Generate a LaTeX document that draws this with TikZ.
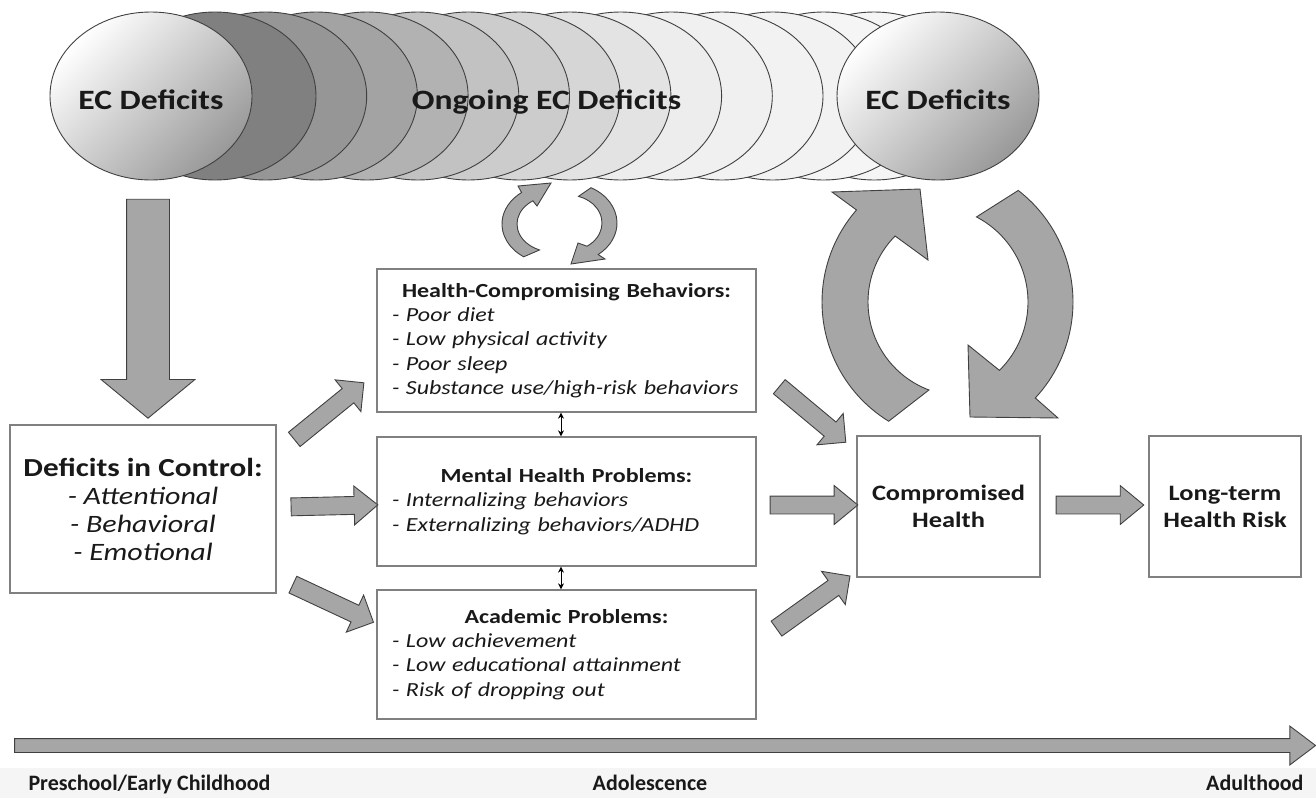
\documentclass[tikz,border=0pt]{standalone}
\usepackage{fontspec}
\setmainfont{Carlito}
\newfontfamily\wideface[FakeStretch=1.2]{Carlito}
\usetikzlibrary{shapes.geometric,shapes.arrows,calc,arrows.meta}

\tikzset{
	ring/.style={ellipse, draw=black!75, line width=0.9, inner sep=0pt, minimum width=202, minimum height=168},
	ectext/.style={font=\wideface\fontsize{28}{32}\selectfont\bfseries, text=black!90},
	box/.style={draw=black!50, line width=1.3, fill=white, inner sep=0pt, font=\wideface\fontsize{20}{24.3}\selectfont, text=black!90},
	fatarrow/.style={single arrow, draw=black!75, fill=black!35, line width=0.9, inner xsep=0pt, line join=miter},
	straightarrow/.style={inner ysep=8.5pt, single arrow head extend=10.5pt, single arrow tip angle=79},
	slantarrow/.style={inner ysep=8.75pt, single arrow head extend=11.25pt, single arrow tip angle=90},
	curvearrow/.style={draw=black!75, fill=black!35, line width=0.9, line join=miter},
	axislabel/.style={font=\fontsize{22}{26}\selectfont\bfseries, text=black!90}
}

\newcommand{\blockarrow}[4][]{%
	\path let \p1=($(#4)-(#3)$), \n1={atan2(\y1,\x1)}, \n2={veclen(\x1,\y1)} in
		node[fatarrow,#1,rotate=\n1,minimum height=\n2] (#2) at ($(#3)!0.5!(#4)$) {};}

\begin{document}
\begin{tikzpicture}[x=1pt,y=-1pt]
		\useasboundingbox (0,0) rectangle (1316,798);
		\fill[black!4] (0,768) rectangle (1316,798);
		\foreach \k/\g in {13/4,12/4,11/5,10/5,9/6,8/7,7/11,6/16,5/20,4/24,3/30,2/36,1/41,0/50}
			\node[ring, fill=black!\g] (ring\k) at ({215+50.7*\k},96) {};
		\node[ring, top color=white, bottom color=black!40, shading angle=45] (ec2) at (938,96) {};
		\node[ring, top color=white, bottom color=black!40, shading angle=45] (ec1) at (151,96) {};
		\node[ectext, anchor=base] (ec1lab) at (151,109) {EC Deficits};
		\node[ectext, anchor=base] (ec2lab) at (938,109) {EC Deficits};
		\node[ectext, anchor=base] (onglab) at (546.5,109) {Ongoing EC Deficits};

		\node[box, minimum width=266, minimum height=168, align=center, font=\wideface\fontsize{25}{28}\selectfont\itshape] (dc) at (143,509)
			{{\upshape\bfseries\fontsize{26}{29}\selectfont Deficits in Control:}\\ - Attentional\\ - Behavioral\\ - Emotional};
		\node[box, minimum width=379, minimum height=143, text width=349, align=left] (hcb) at (566.5,340.5)
			{\makebox[\linewidth]{\bfseries Health-Compromising Behaviors:}\\ \itshape - Poor diet\\ - Low physical activity\\ - Poor sleep\\ - Substance use/high-risk behaviors};
		\node[box, minimum width=379, minimum height=129, text width=349, align=left] (mhp) at (566.5,501.5)
			{\makebox[\linewidth]{\bfseries Mental Health Problems:}\\ \itshape - Internalizing behaviors\\ - Externalizing behaviors/ADHD};
		\node[box, minimum width=379, minimum height=129, text width=349, align=left] (ap) at (566.5,654.5)
			{\makebox[\linewidth]{\bfseries Academic Problems:}\\ \itshape - Low achievement\\ - Low educational attainment\\ - Risk of dropping out};
		\node[box, minimum width=183, minimum height=141, align=center, font=\wideface\fontsize{22}{27}\selectfont\bfseries] (ch) at (948.5,506.5) {Compromised\\Health};
		\node[box, minimum width=152, minimum height=141, align=center, font=\wideface\fontsize{22}{27}\selectfont\bfseries] (lt) at (1225,506.5) {Long-term\\Health Risk};

		\coordinate (a1t) at ($(ec1.south)+(-3,10)$);
		\coordinate (a1h) at ($(dc.north)+(5,-15)$);
		\coordinate (a2t) at ($(dc.north east)+(14,18)$);
		\coordinate (a2h) at ($(hcb.south west)+(-16,-27)$);
		\coordinate (a3t) at ($(dc.east)+(9,-2)$);
		\coordinate (a3h) at ($(mhp.west)+(-4,3.5)$);
		\coordinate (a4t) at ($(dc.south east)+(12,-11)$);
		\coordinate (a4h) at ($(ap.north west)+(-7,31)$);
		\coordinate (a5t) at ($(hcb.south east)+(19,-29)$);
		\coordinate (a5h) at ($(ch.north west)+(-14,4)$);
		\coordinate (a6t) at ($(mhp.east)+(8,3.5)$);
		\coordinate (a6h) at ($(ch.west)+(-4,-1.5)$);
		\coordinate (a7t) at ($(ap.north east)+(16,42)$);
		\coordinate (a7h) at ($(ch.south west)+(-10,1)$);
		\coordinate (a8t) at ($(ch.east)+(10,-1.5)$);
		\coordinate (a8h) at ($(lt.west)+(-10,-1.5)$);
		\blockarrow[inner ysep=21pt, single arrow head extend=25.5pt, single arrow tip angle=101]{downarrow}{a1t}{a1h}
		\blockarrow[slantarrow]{tohcb}{a2t}{a2h}
		\blockarrow[straightarrow]{tomhp}{a3t}{a3h}
		\blockarrow[slantarrow]{toap}{a4t}{a4h}
		\blockarrow[slantarrow]{hcbtoch}{a5t}{a5h}
		\blockarrow[straightarrow]{mhptoch}{a6t}{a6h}
		\blockarrow[slantarrow]{aptoch}{a7t}{a7h}
		\blockarrow[straightarrow]{chtolt}{a8t}{a8h}

		\draw[<->, >={Stealth[length=6pt,width=6pt]}, line width=1] ([xshift=-5.5pt]hcb.south) -- ([xshift=-5.5pt]mhp.north);
		\draw[<->, >={Stealth[length=6pt,width=6pt]}, line width=1] ([xshift=-5.5pt]mhp.south) -- ([xshift=-5.5pt]ap.north);

		\coordinate (lc) at (962,302);
		\coordinate (rc) at (932,302);
		\draw[curvearrow] (lc) ++(121.6:140) arc[start angle=121.6, end angle=221.1, radius=140] -- (832,192) -- (920,189) -- (928,260)
			-- ($(lc)+(224.6:94)$) arc[start angle=224.6, end angle=110.6, radius=94] -- cycle;
		\draw[curvearrow] (rc) ++(-52.3:141) arc[start angle=-52.3, end angle=42.9, radius=141] -- (1058,418) -- (970,417) -- (968,345)
			-- ($(rc)+(45.4:96)$) arc[start angle=45.4, end angle=-62.4, radius=96] -- cycle;
		\draw[curvearrow] (523.7,256.8) arc[start angle=125, end angle=232, x radius=51, y radius=40] -- (518,186) -- (551,183) -- (537,206)
			-- (532.9,200.8) arc[start angle=236, end angle=112, x radius=36, y radius=28] -- cycle;
		\draw[curvearrow] (591,187.7) arc[start angle=-62, end angle=52, x radius=49, y radius=40] -- (605,259) -- (571,264) -- (578,243)
			-- (587,246.2) arc[start angle=56, end angle=-72, x radius=34, y radius=28] -- cycle;

		\coordinate (tstart) at (10,745.5);
		\coordinate (tend) at (1311,745.5);
		\blockarrow[inner ysep=6.5pt, single arrow head extend=12.5pt, single arrow tip angle=74]{timeline}{tstart}{tend}
		\node[axislabel, anchor=base west] (pre) at (25,790) {Preschool/Early Childhood};
		\node[axislabel, anchor=base] (ado) at (650,790) {Adolescence};
		\node[axislabel, anchor=base east] (adu) at (1307,790) {Adulthood};
\end{tikzpicture}
\end{document}
